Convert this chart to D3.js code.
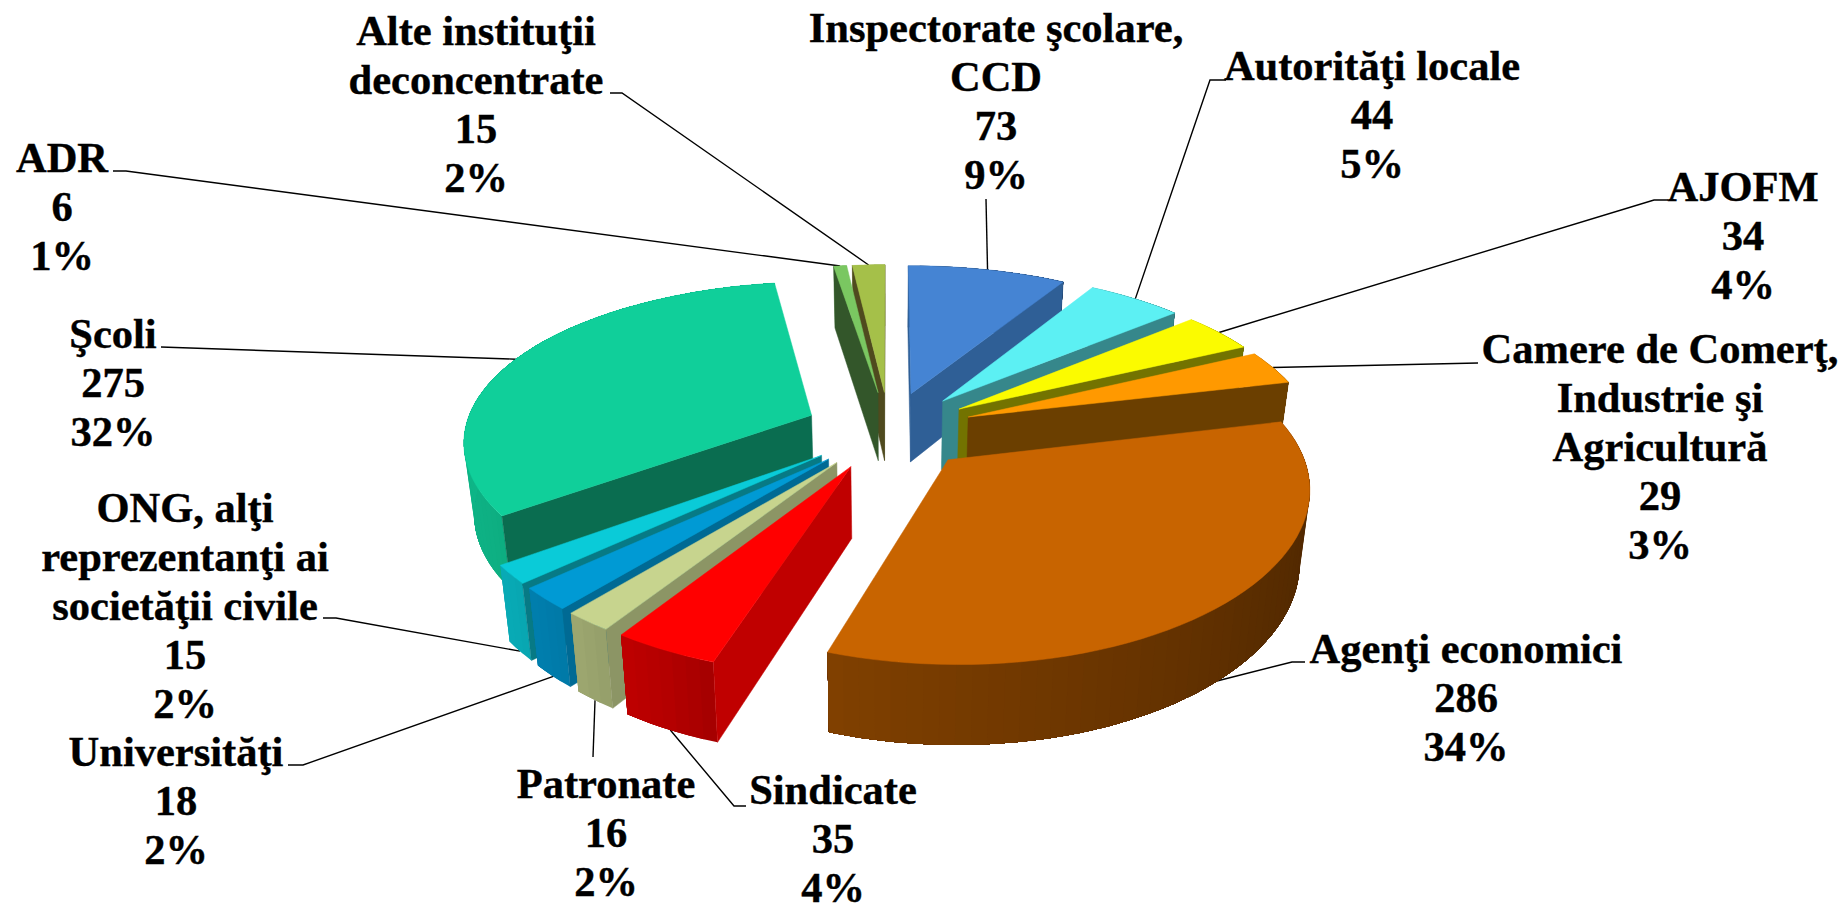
<!DOCTYPE html>
<html><head><meta charset="utf-8">
<style>html,body{margin:0;padding:0;background:#fff;overflow:hidden}svg{display:block}</style>
<script src="https://cdn.jsdelivr.net/npm/d3@7"></script>
</head><body>
<script>
// ---- data, clockwise from 12 o'clock ----
const categories = [
  ["Inspectorate şcolare,","CCD"],["Autorităţi locale"],["AJOFM"],
  ["Camere de Comerţ,","Industrie şi","Agricultură"],["Agenţi economici"],["Sindicate"],
  ["Patronate"],["Universităţi"],["ONG, alţi","reprezentanţi ai","societăţii civile"],
  ["Şcoli"],["ADR"],["Alte instituţii","deconcentrate"]];
const values = [73,44,34,29,286,35,16,18,15,275,6,15];
const percents = ["9%","5%","4%","3%","34%","4%","2%","2%","2%","32%","1%","2%"];
// ---- styles ----
const topColors  = ["#4584D3","#5CF0F3","#FBFB00","#FF9900","#C86400","#FF0000","#C7D48E","#009AD4","#0ACBD8","#10CF9A","#7AC761","#A5C049"];
const cutColors  = ["#2F5F96","#36878B","#737300","#6B3F00","#6B3500","#C00000","#8C9565","#006A94","#077A85","#0A6D50","#33562A","#4F4A1E"];
// ---- label layout ----
const labelX = [996,1372,1743,1660,1466,833,606,176,185,113,62,476];
const labelY = [42,80,201,363,663,804,798,766,522,348,172,45];
const lineStep = 49.1;
const leaderBends = [
  [[986,199]],[[1226,80],[1210,80]],[[1668,200],[1654,200]],[[1478,363]],[[1305,662],[1292,662]],
  [[746,806],[734,806]],[[593,757]],[[288,765],[303,765]],[[323,618],[336,618]],[[161,347]],
  [[113,171],[126,171]],[[610,93],[622,93]]];
const leaderLevel = [0,0,0,0,1,1,1,1,1,0,0,0]; // 0 = top rim, 1 = bottom rim
// ---- perspective model of the disc ----
const cx=889, cy=430, rx=347, ry=160, perspX=.145, perspY=.165, perspZ=.11, depth=70, explode=.245, taper=.024;
const project=(u,v,z)=>[cx+rx*u/(1+perspX*v)*(1-taper*z), cy-ry*v/(1+perspY*v)+z*depth/(1+perspZ*v)];
const rimShade=d3.scaleLinear().domain([90,130,198,205,220,230,240,270,360]).range([.38,.45,.64,.70,.79,.83,.85,.88,.88]).clamp(true);
const shade=(c,f)=>{const r=d3.rgb(c);return d3.rgb(r.r*f,r.g*f,r.b*f).formatHex();};

const svg=d3.select("body").append("svg").attr("width",1842).attr("height",906);
const arcs=d3.pie().sort(null).value(d=>d)(values);
const line=d3.line();
const slices=arcs.map((a,i)=>{
  const mid=(a.startAngle+a.endAngle)/2;
  const ou=explode*Math.sin(mid), ov=explode*Math.cos(mid);
  const P=(ang,r,z)=>project(ou+r*Math.sin(ang),ov+r*Math.cos(ang),z);
  return {i,a,mid,ov,P};
});
// leaders sit under the slices
const gLead=svg.append("g").attr("fill","none").attr("stroke","#000").attr("stroke-width",1.4);
slices.forEach(s=>{
  const pts=[...leaderBends[s.i],s.P(s.mid,1,leaderLevel[s.i])];
  gLead.append("path").attr("d",line(pts));
});
const side=(p,q,r)=>(q[0]-p[0])*(r[1]-p[1])-(q[1]-p[1])*(r[0]-p[0]);
const gPie=svg.append("g");
slices.slice().sort((a,b)=>b.ov-a.ov).forEach(s=>{
  const {a,P,i,mid}=s, g=gPie.append("g");
  const span=a.endAngle-a.startAngle;
  const N=Math.max(3,Math.ceil(span/0.04));
  const angs=d3.range(N+1).map(k=>a.startAngle+span*k/N);
  // rim wall: each band runs on to the slice end, the next one paints over it
  angs.slice(0,-1).forEach((p,k)=>{
    const c=shade(topColors[i],rimShade((p+span/N/2)*180/Math.PI));
    const rest=angs.slice(k);
    g.append("path").attr("d",line([...rest.map(t=>P(t,1,0)),...rest.slice().reverse().map(t=>P(t,1,1))])+"Z").attr("fill",c);
  });
  // cut walls that face the viewer
  [a.startAngle,a.endAngle].forEach(ang=>{
    const A=P(0,0,0),R=P(ang,1,0),M=P(mid,1,0),B=P(0,0,1);
    if(side(A,R,B)*side(A,R,M)<0)
      g.append("path").attr("d",line([A,R,P(ang,1,1),B])+"Z").attr("fill",cutColors[i]).attr("stroke",cutColors[i]).attr("stroke-width",.5);
  });
  // top
  g.append("path").attr("d",line([P(0,0,0),...angs.map(t=>P(t,1,0))])+"Z").attr("fill",topColors[i]).attr("stroke",topColors[i]).attr("stroke-width",.5);
});
// labels
const gText=svg.append("g").attr("font-family","'Liberation Serif','Times New Roman',serif").attr("font-weight","bold").attr("font-size",42.5).attr("fill","#000").attr("stroke","#000").attr("stroke-width",.4).attr("text-anchor","middle");
categories.forEach((lines,i)=>{
  [...lines,String(values[i]),percents[i]].forEach((t,k)=>{
    gText.append("text").attr("x",labelX[i]).attr("y",labelY[i]+k*lineStep).text(t);
  });
});
</script>
</body></html>
